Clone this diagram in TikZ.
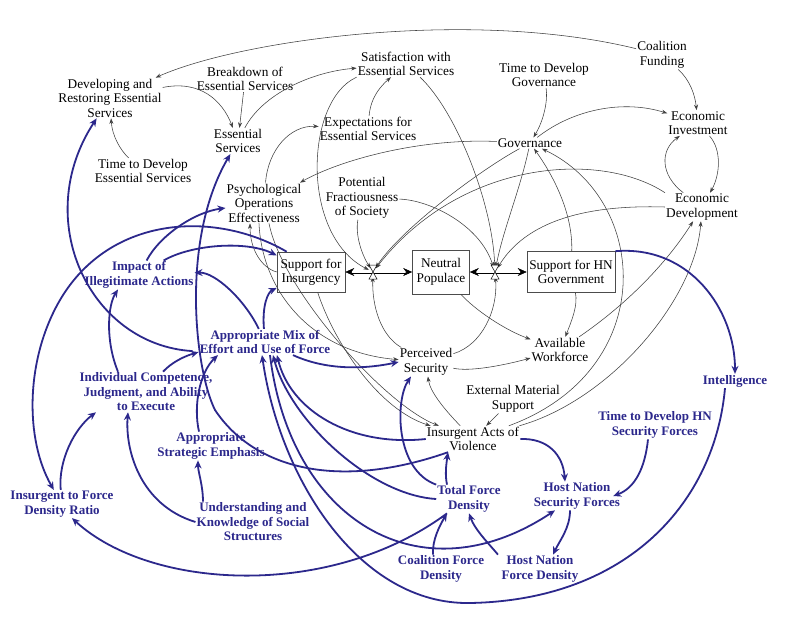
\documentclass[tikz,border=0pt]{standalone}
\usepackage{fontspec}
\setmainfont{Liberation Serif}
\usetikzlibrary{arrows.meta}
\definecolor{navy}{RGB}{44,40,140}
\begin{document}
\begin{tikzpicture}[x=1pt,y=-1pt,
  lab/.style={align=center,font=\fontsize{13.3}{14.5}\selectfont,inner sep=1pt,text=black},
  blab/.style={align=center,font=\fontsize{13}{14.5}\selectfont\bfseries,inner sep=1pt,text=navy},
  stock/.style={draw=black!70,line width=0.6pt,fill=white,align=center,font=\fontsize{13.3}{14.5}\selectfont,inner sep=2pt},
  valvept/.style={circle,minimum size=9pt,inner sep=0pt},
  bl/.style={draw=black!75,line width=0.55pt,-{Stealth[length=5.5pt,width=4pt]}},
  bu/.style={draw=navy,line width=1.8pt,-{Stealth[length=8pt,width=7pt]}},
  pipe/.style={draw=black,line width=0.5pt,double=white,double distance=2pt,-{Stealth[length=9pt,width=8pt]}}]
\fill[white] (0,0) rectangle (800,619);
\useasboundingbox (0,0) rectangle (800,619);

% black labels
\node[lab] (dev) at (110,98) {Developing and\\Restoring Essential\\Services};
\node[lab] (brk) at (245,79) {Breakdown of\\Essential Services};
\node[lab] (sat) at (406,64) {Satisfaction with\\Essential Services};
\node[lab] (tdg) at (544,75) {Time to Develop\\Governance};
\node[lab] (cfund) at (662,55) {Coalition\\Funding};
\node[lab] (es) at (238,141) {Essential\\Services};
\node[lab] (exp) at (368,129) {Expectations for\\Essential Services};
\node[lab] (gov) at (530,143) {Governance};
\node[lab] (einv) at (698,123) {Economic\\Investment};
\node[lab] (tdes) at (143,171) {Time to Develop\\Essential Services};
\node[lab] (psy) at (264,203) {Psychological\\Operations\\Effectiveness};
\node[lab] (frac) at (362,198) {Potential\\Fractiousness\\of Society};
\node[lab] (edev) at (702,207) {Economic\\Development};
\node[stock,minimum width=68pt,minimum height=40pt] (sins) at (311,272) {Support for\\Insurgency};
\node[stock,minimum width=57pt,minimum height=44pt] (neut) at (441,272) {Neutral\\Populace};
\node[stock,minimum width=88pt,minimum height=41pt] (shn) at (571,272) {Support for HN\\Government};
\node[lab] (ps) at (426,362) {Perceived\\Security};
\node[lab] (aw) at (560,350) {Available\\Workforce};
\node[lab] (ems) at (513,399) {External Material\\Support};
\node[lab] (iav) at (473,439) {Insurgent Acts of\\Violence};

% blue labels
\node[blab] (imp) at (139,275) {Impact of\\Illegitimate Actions};
\node[blab] (mix) at (265,342) {Appropriate Mix of\\Effort and Use of Force};
\node[blab] (intel) at (735,381) {Intelligence};
\node[blab] (ind) at (146,392) {Individual Competence,\\Judgment, and Ability\\to Execute};
\node[blab] (tdhn) at (655,425) {Time to Develop HN\\Security Forces};
\node[blab] (ase) at (211,446) {Appropriate\\Strategic Emphasis};
\node[blab] (ifd) at (62,504) {Insurgent to Force\\Density Ratio};
\node[blab] (tfd) at (469,499) {Total Force\\Density};
\node[blab] (hnsf) at (577,496) {Host Nation\\Security Forces};
\node[blab] (und) at (253,522) {Understanding and\\Knowledge of Social\\Structures};
\node[blab] (cfd) at (441,569) {Coalition Force\\Density};
\node[blab] (hnfd) at (540,569) {Host Nation\\Force Density};

\node[valvept] (v1) at (373,272) {};
\node[valvept] (v2) at (495,272) {};

% black connectors
\draw[bl] (cfund) .. controls (470,8) and (240,40) .. (dev);
\draw[bl] (cfund) .. controls (690,80) and (695,95) .. (einv);
\draw[bl] (dev) .. controls (200,80) and (222,100) .. (es);
\draw[bl] (brk) -- (es);
\draw[bl] (es) .. controls (262,95) and (310,72) .. (sat);
\draw[bl] (tdes) .. controls (120,150) and (112,135) .. (dev);
\draw[bl] (exp) .. controls (370,105) and (374,92) .. (sat);
\draw[bl] (psy) .. controls (268,150) and (290,125) .. (exp);
\draw[bl] (gov) .. controls (420,138) and (340,160) .. (psy);
\draw[bl] (tdg) .. controls (548,100) and (544,120) .. (gov);
\draw[bl] (gov) .. controls (575,108) and (625,100) .. (einv);
\draw[bl] (einv) .. controls (722,150) and (720,175) .. (edev);
\draw[bl] (edev) .. controls (660,175) and (660,150) .. (einv);
\draw[bl] (edev.north west) .. controls (600,150) and (460,160) .. (v1);
\draw[bl] (edev.west) .. controls (600,205) and (530,215) .. (v2);
\draw[bl] (sat) .. controls (455,110) and (492,200) .. (v2);
\draw[bl] (sat.south west) .. controls (305,100) and (300,235) .. (v1);
\draw[bl] (frac) .. controls (355,235) and (362,255) .. (v1);
\draw[bl] (frac) .. controls (430,200) and (480,225) .. (v2);
\draw[bl] (gov) .. controls (480,170) and (400,230) .. (v1);
\draw[bl] (gov) .. controls (520,190) and (503,230) .. (v2);
\draw[bl] (sins.west) .. controls (262,268) and (250,250) .. ([xshift=-14]psy.south);
\draw[bl] ([xshift=-5]psy.south) .. controls (262,290) and (310,352) .. (ps);
\draw[bl] ([xshift=5]psy.south) .. controls (282,290) and (385,405) .. (iav);
\draw[bl] (sins) .. controls (335,345) and (380,410) .. (iav);
\draw[bl] (ps) .. controls (380,335) and (372,305) .. (v1);
\draw[bl] (ps) .. controls (482,345) and (498,310) .. (v2);
\draw[bl] (ps) .. controls (470,372) and (505,365) .. (aw);
\draw[bl] (neut) .. controls (475,310) and (505,330) .. (aw);
\draw[bl] (shn) .. controls (578,305) and (572,320) .. (aw);
\draw[bl] (aw) .. controls (640,295) and (675,250) .. (edev);
\draw[bl] (iav) .. controls (610,400) and (695,300) .. (edev);
\draw[bl] (iav) .. controls (660,370) and (650,200) .. (gov);
\draw[bl] (shn) .. controls (573,215) and (555,178) .. (gov);
\draw[bl] (ems) -- (iav);
\draw[bl] (iav) .. controls (445,410) and (430,392) .. (ps);

% blue connectors
\draw[bu] (mix) .. controls (245,300) and (215,272) .. (imp);
\draw[bu] (mix) .. controls (262,305) and (268,292) .. (sins);
\draw[bu] (imp) .. controls (160,235) and (195,212) .. (psy);
\draw[bu] (imp) .. controls (190,245) and (245,240) .. (sins);
\draw[bu] ([xshift=10]sins.north west) .. controls (215,210) and (110,215) .. (60,300) .. controls (25,360) and (25,440) .. (ifd);
\draw[bu] (ifd) .. controls (58,460) and (75,428) .. ([xshift=-50]ind.south);
\draw[bu] ([xshift=-28]ind.north) .. controls (105,340) and (108,305) .. ([xshift=-21]imp.south);
\draw[bu] ([xshift=17]ind.north) .. controls (172,362) and (185,356) .. ([yshift=3]mix.south west);
\draw[bu] ([xshift=-6,yshift=4]mix.south west) .. controls (90,345) and (30,220) .. (dev);
\draw[bu] ([xshift=-25]iav.south) .. controls (340,490) and (255,470) .. (215,410) .. controls (195,370) and (180,240) .. (es);
\draw[bu] ([xshift=-12]ase.north) .. controls (193,405) and (200,372) .. ([xshift=-47]mix.south);
\draw[bu] ([xshift=-50]und.north) .. controls (203,485) and (198,472) .. ([xshift=-13]ase.south);
\draw[bu] (und.west) .. controls (140,505) and (125,450) .. ([xshift=-18]ind.south);
\draw[bu] ([xshift=-22]tfd.south) .. controls (330,600) and (150,590) .. ([xshift=10]ifd.south);
\draw[bu] ([xshift=-8]cfd.north) .. controls (432,540) and (440,525) .. ([xshift=-22]tfd.south);
\draw[bu] ([xshift=-42]hnfd.north) .. controls (490,545) and (475,530) .. (tfd.south);
\draw[bu] ([xshift=-7]hnsf.south) .. controls (570,528) and (560,540) .. ([xshift=13]hnfd.north);
\draw[bu] ([xshift=-7]tdhn.south) .. controls (645,468) and (635,488) .. ([xshift=-8]hnsf.east);
\draw[bu] (iav.east) .. controls (548,438) and (563,455) .. ([xshift=-12]hnsf.north);
\draw[bu] ([xshift=5]mix.south) .. controls (290,520) and (420,600) .. ([xshift=-22]hnsf.south);
\draw[bu] (shn.north east) .. controls (690,245) and (735,310) .. (intel);
\draw[bu] ([xshift=-10]intel.south) .. controls (715,500) and (630,600) .. (470,603) .. controls (360,605) and (280,480) .. ([xshift=-3]mix.south);
\draw[bu] (tfd.west) .. controls (370,495) and (290,420) .. ([xshift=8]mix.south);
\draw[bu] (iav.west) .. controls (350,447) and (290,410) .. ([xshift=12]mix.south);
\draw[bu] (tfd.north west) .. controls (395,470) and (395,400) .. ([xshift=-15]ps.south);
\draw[bu] ([xshift=-22]tfd.north) .. controls (445,475) and (446,466) .. ([xshift=-25]iav.south);
\draw[bu] ([xshift=28]mix.south) .. controls (330,372) and (370,368) .. (ps.west);

% flows and valves
\draw[pipe] (v1.center) -- (sins.east);
\draw[pipe] (v1.center) -- (neut.west);
\draw[pipe] (v2.center) -- (neut.east);
\draw[pipe] (v2.center) -- (shn.west);
\foreach \v in {v1,v2}{
  \draw[fill=white,line width=0.5pt] (\v.center) -- ++(-4,-7) -- ++(8,0) -- cycle;
  \draw[fill=white,line width=0.5pt] (\v.center) -- ++(-4,7) -- ++(8,0) -- cycle;
}
\end{tikzpicture}
\end{document}
